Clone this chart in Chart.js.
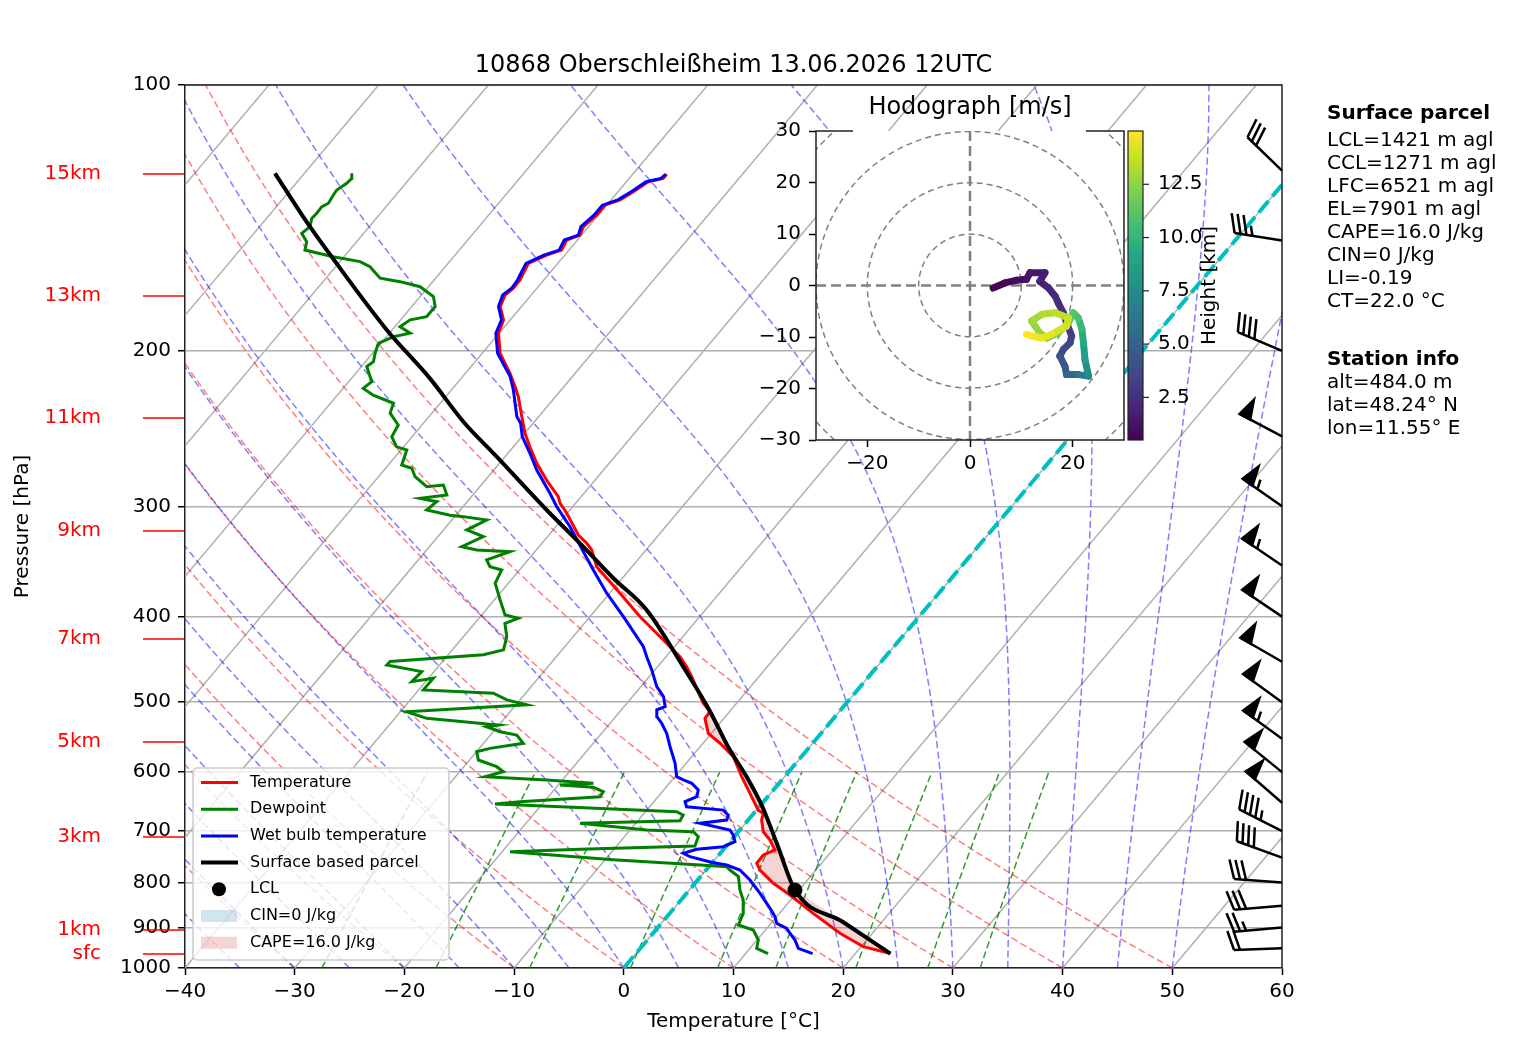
<!DOCTYPE html>
<html><head><meta charset="utf-8">
<script src="https://cdn.jsdelivr.net/npm/chart.js@4.4.1/dist/chart.umd.min.js"></script>
<style>
html,body{margin:0;padding:0;background:#fff;}
#wrap{position:relative;width:1517px;height:1054px;overflow:hidden;}
#main{position:absolute;left:0;top:0;}
#hodo{position:absolute;left:700px;top:80px;}
</style></head>
<body><div id="wrap"><canvas id="main" width="1517" height="1054"></canvas><canvas id="hodo" width="530" height="420"></canvas></div>
<script>
// ---------------- DATA ----------------
const chartTitle = '10868 Oberschleißheim 13.06.2026 12UTC';
const pressureTicks = [100, 200, 300, 400, 500, 600, 700, 800, 900, 1000];
const temperatureTicks = [-40, -30, -20, -10, 0, 10, 20, 30, 40, 50, 60];

// [pressure hPa, value °C]
const temperature = [[963,23.2],[946,20.2],[913.4,17.05],[867.2,13.08],[826.7,9.56],[801.8,7.14],[774.5,4.91],[761.1,4.10],[744.7,4.06],[735.1,4.74],[716.2,3.52],[701,2.28],[680,1.23],[668.3,0.87],[662.5,0.16],[634.2,-1.88],[607.2,-3.91],[576.3,-6.21],[556.6,-8.44],[542.3,-10.28],[521.5,-11.73],[512.6,-11.78],[501.5,-13.03],[467.9,-16.13],[455.9,-17.35],[444.1,-18.73],[425.1,-21.53],[400.1,-25.43],[376.3,-29.06],[351.2,-33.21],[336.2,-34.95],[330.4,-35.92],[323.3,-37.32],[305.5,-40.04],[297.6,-41.42],[292.6,-42.08],[280.2,-44.42],[268.2,-46.6],[256.9,-48.49],[248,-49.97],[237.4,-51.55],[225.4,-53.39],[219.6,-54.45],[212.1,-55.93],[201.3,-58.37],[191,-60.06],[184.5,-60.62],[178.2,-61.94],[172.9,-62.39],[169.9,-62.14],[166.3,-62.17],[159.2,-62.69],[155.8,-61.65],[153.8,-60.67],[149.8,-60.98],[147.9,-60.14],[144.7,-60.48],[140.4,-60.16],[136.8,-60.16],[134.9,-59.19],[132.1,-58.6],[128.7,-58.01],[127.6,-56.9],[126.2,-56.9]];

const dewpoint = [[963,12.04],[949.9,10.6],[929.6,10.12],[905.8,8.9],[893.9,7.15],[867.2,6.7],[837.6,5.68],[816,4.61],[788,3.45],[774.5,2.17],[767.9,1.62],[764.6,-0.94],[754.3,-9.23],[738.3,-19.28],[733.8,-13.08],[727.6,-2.86],[710,-3.27],[701,-4.1],[697.8,-8.48],[685.7,-15.08],[681.1,-6.16],[671.2,-6.3],[665.3,-7.15],[653.8,-21.95],[652.1,-24.3],[648.1,-22.2],[639.7,-15.29],[631.4,-15.38],[624.3,-16.62],[620.5,-19.84],[617.7,-16.93],[612.4,-21.43],[607.2,-27.31],[599.4,-26.02],[591.6,-27.01],[581.4,-29.19],[568.9,-29.98],[564,-29.03],[556.6,-26.37],[544.7,-27.61],[540.1,-29.38],[533.1,-30.99],[530.7,-30.06],[521.5,-37.1],[512.6,-39.43],[503.5,-29.0],[497,-31.2],[488.5,-32.94],[484.2,-39.58],[469.7,-39.56],[473.9,-41.26],[461.7,-41.12],[453.7,-44.82],[449.7,-44.78],[441.9,-36.79],[436.2,-35.34],[421.5,-36.05],[407.1,-37.24],[401.8,-36.41],[398.3,-37.87],[383,-39.47],[366.6,-41.21],[354.2,-41.62],[351.2,-42.94],[345,-43.77],[337.7,-42.26],[336.2,-45.43],[333.3,-47.06],[324.7,-45.85],[319.1,-47.87],[310.9,-46.82],[308.2,-49.2],[307,-50.54],[302.9,-53.06],[296.4,-52.78],[293.8,-54.56],[291.2,-52.38],[283.8,-53.45],[285,-54.84],[277.7,-56.67],[271.7,-57.61],[269.4,-58.78],[259,-59.47],[256.9,-60.64],[250.2,-61.86],[242.7,-62.16],[235.3,-63.81],[229.3,-64.27],[224.5,-66.73],[220.6,-68.16],[216.8,-67.9],[213.9,-68.44],[208.4,-69.51],[205.7,-69.28],[201.3,-69.77],[196.1,-70.24],[192.8,-69.37],[191,-68.11],[187.8,-69.53],[184.5,-69.13],[183,-67.87],[178.2,-67.87],[173.6,-68.8],[169.2,-70.77],[167,-72.98],[165.5,-75.06],[160.6,-76.87],[158.5,-78.16],[156.5,-80.97],[153.8,-84.07],[150.5,-84.55],[147.2,-85.65],[144.7,-85.4],[141.6,-85.88],[139.7,-85.82],[137.4,-85.86],[136.1,-85.52],[133.2,-85.7],[131.5,-85.77],[129.2,-85.38],[127.6,-85.3],[125.9,-85.68]];

const wetBulb = [[963,16.1],[949.9,14.4],[929.6,13.46],[913.4,12.49],[901.7,11.81],[890,10.52],[874.8,9.85],[855.9,8.76],[823.1,6.7],[795,4.76],[774.5,3.08],[764.6,1.49],[760,0.09],[748.1,-2.49],[741.4,-3.36],[733.8,-2.45],[728.8,-0.22],[719.4,0.46],[707,-0.21],[697.8,-0.89],[685.7,-4.14],[680,-1.96],[671.2,-2.19],[662.5,-3.03],[656.8,-6.63],[648.1,-7.16],[639.7,-6.47],[628.6,-6.85],[617.7,-7.96],[612.4,-8.98],[607.2,-9.84],[586.3,-11.01],[561.5,-12.74],[542.3,-14.07],[528.2,-15.3],[519.1,-16.25],[510.1,-16.77],[505.7,-16.26],[492.7,-17.18],[480.1,-18.55],[459.6,-20.29],[444.1,-21.76],[432.6,-22.83],[400.1,-26.95],[376.3,-30.27],[354.2,-33.27],[337.7,-35.58],[316.4,-38.71],[300.3,-41.46],[290,-43.1],[272.9,-46.09],[261.3,-47.98],[250.2,-49.96],[241.6,-51.14],[237.4,-52.0],[221.5,-54.35],[213.9,-55.67],[201.3,-58.6],[191,-60.3],[184.5,-60.8],[178.2,-62.1],[172.9,-62.6],[169.9,-62.3],[166.3,-62.4],[159.2,-62.9],[155.8,-61.9],[153.8,-60.9],[149.8,-61.2],[147.9,-60.3],[144.7,-60.7],[140.4,-60.4],[136.8,-60.4],[134.9,-59.4],[132.1,-58.8],[128.7,-58.2],[127.6,-57.1],[126.2,-57.0]];

const parcel = [[963,23.2],[887,16.46],[816,9.63],[722.4,4.39],[653.8,0.08],[607.2,-3.46],[566.5,-7.02],[507.9,-12.2],[455.9,-17.66],[393.2,-25.34],[361.9,-30.81],[330.4,-36.53],[302.9,-42.12],[263.6,-50.76],[240.6,-56.48],[214.9,-62.85],[189.4,-70.49],[156.5,-81.12],[141,-86.78],[125.9,-92.68]];
const lcl = [[816, 9.63]];

// background reference-line parameters
const isothermT = [-100, -90, -80, -70, -60, -50, -40, -30, -20, -10, 0, 10, 20, 30, 40, 50, 60];
const dryAdiabatT0 = [-40, -30, -20, -10, 0, 10, 20, 30, 40, 50];
const moistAdiabatT0 = [-40, -35, -30, -25, -20, -15, -10, -5, 0, 5, 10, 15, 20, 25, 30, 35, 40, 45, 50];
const mixingRatios = [0.0004, 0.001, 0.002, 0.004, 0.007, 0.01, 0.016, 0.024, 0.032];

// wind barbs (knots)
const barbP = [125, 150, 200, 250, 300, 350, 400, 450, 500, 550, 600, 650, 700, 750, 800, 850, 900, 950];
const barbDir = [314, 279, 293, 298, 305, 304, 304, 300, 306, 306, 309, 311, 297, 290, 274, 265, 265, 268];
const barbSpd = [30, 35, 40, 50, 55, 55, 50, 50, 50, 55, 50, 50, 45, 40, 30, 30, 25, 20];

// height labels
const kmLabels = ['15km', '13km', '11km', '9km', '7km', '5km', '3km', '1km', 'sfc'];
const kmP = [126.1, 173.4, 238.3, 320.0, 424.0, 554.6, 710.6, 905.8, 964.0];

// hodograph: height (km), u, v (m/s)
const hodoH = [0.5,0.7,0.9,1.1,1.3,1.6,1.8,2.0,2.2,2.4,2.6,2.8,3.1,3.4,3.7,4.0,4.4,4.9,5.8,7.0,8.0,9.0,9.8,10.5,11.0,11.4,11.8,12.2,12.5,12.8,13.1,13.4,13.7,14.0,14.3,14.6,14.8,15.0];
const hodoU = [4.5,6.8,9.0,11.0,11.7,14.6,13.6,15.3,16.6,17.2,18.2,18.8,19.8,19.5,18.2,17.5,18.5,18.8,21.1,23.1,22.4,22.1,21.8,21.1,20.1,19.2,17.2,15.0,13.6,12.0,14.0,16.6,19.2,18.8,15.9,14.0,12.0,11.0];
const hodoV = [-0.5,0.5,1.0,1.2,2.5,2.5,0.8,-0.5,-2.1,-3.4,-5.3,-7.2,-9.8,-11.1,-12.4,-13.7,-15.7,-17.3,-17.3,-17.6,-14.4,-11.1,-8.5,-6.3,-5.3,-7.2,-9.2,-10.2,-9.2,-6.9,-5.6,-5.3,-6.3,-7.9,-9.5,-10.2,-9.8,-9.5];
const hodoTicks = [-30, -20, -10, 0, 10, 20, 30];
const colorbarTicks = [2.5, 5.0, 7.5, 10.0, 12.5];

const parcelInfo = ['LCL=1421 m agl', 'CCL=1271 m agl', 'LFC=6521 m agl', 'EL=7901 m agl', 'CAPE=16.0 J/kg', 'CIN=0 J/kg', 'LI=-0.19', 'CT=22.0 °C'];
const stationInfo = ['alt=484.0 m', 'lat=48.24° N', 'lon=11.55° E'];
const legendItems = ['Temperature', 'Dewpoint', 'Wet bulb temperature', 'Surface based parcel', 'LCL', 'CIN=0 J/kg', 'CAPE=16.0 J/kg'];

// ---------------- HELPERS ----------------
const FONT = '"DejaVu Sans", sans-serif';
Chart.defaults.font.family = FONT;
Chart.defaults.color = '#000';
const SKEW = 67.65;
const skewX = (T, p) => T + SKEW * Math.log10(1000 / p);
const toPts = arr => arr.map(([p, T]) => ({x: skewX(T, p), y: p}));
const minus = v => (v < 0 ? '\u2212' + Math.abs(v) : String(v));

function dryAdiabat(t0) {
  const pts = [];
  for (let p = 1000; p >= 100; p -= 10) pts.push({x: skewX((t0 + 273.15) * Math.pow(p / 1000, 0.28571) - 273.15, p), y: p});
  return pts;
}
function moistAdiabat(t0) {
  const Rd = 287.04749, Cp = 1004.6662, Lv = 2.50084e6, eps = 0.62196;
  const f = (p, T) => {
    const es = 6.112 * Math.exp(17.67 * (T - 273.15) / (T - 29.65));
    const rs = eps * es / (p - es);
    return (Rd * T + Lv * rs) / (Cp + Lv * Lv * rs * eps / (Rd * T * T)) / p;
  };
  let T = t0 + 273.15;
  const pts = [{x: skewX(t0, 1000), y: 1000}];
  for (let i = 0; i < 180; i++) {
    const p = 1000 - 5 * i, h = -5;
    const k1 = f(p, T), k2 = f(p + h / 2, T + h / 2 * k1), k3 = f(p + h / 2, T + h / 2 * k2), k4 = f(p + h, T + h * k3);
    T += h / 6 * (k1 + 2 * k2 + 2 * k3 + k4);
    const pn = p + h;
    if (pn % 10 === 0) pts.push({x: skewX(T - 273.15, pn), y: pn});
  }
  return pts;
}
function mixingLine(w) {
  const pts = [];
  for (let p = 1000; p >= 600; p -= 20) {
    const e = p * w / (0.62196 + w);
    const l = Math.log(e / 6.112);
    pts.push({x: skewX(243.5 * l / (17.67 - l), p), y: p});
  }
  return pts;
}
const bg = (data, color, width, dash, order) => ({label: '', data, borderColor: color, borderWidth: width, borderDash: dash, pointRadius: 0, fill: false, order});

function interpT(arr, p) {
  for (let i = 0; i < arr.length - 1; i++) {
    const [p0, t0] = arr[i], [p1, t1] = arr[i + 1];
    if (p <= p0 && p >= p1) {
      const f = (Math.log(p) - Math.log(p0)) / (Math.log(p1) - Math.log(p0));
      return t0 + f * (t1 - t0);
    }
  }
  return null;
}

const viridisStops = ['#440154','#482475','#414487','#355f8d','#2a788e','#21918c','#22a884','#44bf70','#7ad151','#bddf26','#fde725'];
const hex = h => [parseInt(h.slice(1, 3), 16), parseInt(h.slice(3, 5), 16), parseInt(h.slice(5, 7), 16)];
function viridis(f) {
  f = Math.max(0, Math.min(1, f));
  const n = viridisStops.length - 1;
  const i = Math.min(n - 1, Math.floor(f * n));
  const t = f * n - i;
  const a = hex(viridisStops[i]), b = hex(viridisStops[i + 1]);
  return `rgb(${Math.round(a[0] + t * (b[0] - a[0]))},${Math.round(a[1] + t * (b[1] - a[1]))},${Math.round(a[2] + t * (b[2] - a[2]))})`;
}
const hMin = Math.min(...hodoH), hMax = Math.max(...hodoH);

// ---------------- MAIN SKEW-T ----------------
const datasets = [
  {label: 'LCL', data: toPts(lcl), showLine: false, pointRadius: 7, pointBackgroundColor: '#000', pointBorderColor: '#000', borderColor: '#000', order: 0},
  {label: 'Surface based parcel', data: toPts(parcel), borderColor: '#000', borderWidth: 4, pointRadius: 0, cubicInterpolationMode: 'monotone', order: 1},
  {label: 'Wet bulb temperature', data: toPts(wetBulb), borderColor: '#0000ff', borderWidth: 3, pointRadius: 0, order: 2},
  {label: 'Temperature', data: toPts(temperature), borderColor: '#ff0000', borderWidth: 3, pointRadius: 0, order: 3},
  {label: 'Dewpoint', data: toPts(dewpoint), borderColor: '#008000', borderWidth: 3, pointRadius: 0, order: 4},
  bg([{x: skewX(0, 1000), y: 1000}, {x: skewX(0, 100), y: 100}], '#00bfbf', 4, [15, 6], 5)
];
mixingRatios.forEach(w => datasets.push(bg(mixingLine(w), 'rgba(0,128,0,0.8)', 1.5, [7, 3.5], 6)));
moistAdiabatT0.forEach(t => datasets.push(bg(moistAdiabat(t), 'rgba(0,0,255,0.5)', 1.5, [7, 3.5], 7)));
dryAdiabatT0.forEach(t => datasets.push(bg(dryAdiabat(t), 'rgba(255,0,0,0.5)', 1.5, [7, 3.5], 8)));
isothermT.forEach(t => datasets.push(bg([{x: skewX(t, 1000), y: 1000}, {x: skewX(t, 100), y: 100}], '#b0b0b0', 1.5, [], 9)));

function drawCape(chart) {
  const xs = chart.scales.x, ys = chart.scales.y, ctx = chart.ctx;
  const pb = temperature[0][0], pt = 480;
  let run = [];
  const flush = () => {
    if (run.length > 1) {
      ctx.beginPath();
      run.forEach((r, i) => { const X = xs.getPixelForValue(skewX(r.tp, r.p)), Y = ys.getPixelForValue(r.p); i ? ctx.lineTo(X, Y) : ctx.moveTo(X, Y); });
      for (let i = run.length - 1; i >= 0; i--) { const r = run[i]; ctx.lineTo(xs.getPixelForValue(skewX(r.te, r.p)), ys.getPixelForValue(r.p)); }
      ctx.closePath(); ctx.fill();
    }
    run = [];
  };
  ctx.save();
  ctx.fillStyle = 'rgba(214,39,40,0.2)';
  for (let lp = Math.log(pb); lp >= Math.log(pt); lp -= 0.001) {
    const p = Math.exp(lp);
    const te = interpT(temperature, p), tp = interpT(parcel, p);
    if (te !== null && tp !== null && tp > te) run.push({p, te, tp}); else flush();
  }
  flush();
  ctx.restore();
}

function drawBarb(ctx, x0, y0, dir, spd, L) {
  const d = dir * Math.PI / 180;
  const sx = Math.sin(d), sy = -Math.cos(d);
  const qx = Math.cos(d), qy = Math.sin(d);
  const P = (a, b) => [x0 + b * sx + a * qx, y0 + b * sy + a * qy];
  const H = 0.4 * L, W = 0.25 * L, S = 0.125 * L;
  let rem = Math.round(spd / 5) * 5;
  const nf = Math.floor(rem / 50); rem -= nf * 50;
  const nb = Math.floor(rem / 10); rem -= nb * 10;
  const half = rem >= 5;
  ctx.save();
  ctx.strokeStyle = '#000'; ctx.fillStyle = '#000'; ctx.lineWidth = 2.5; ctx.lineCap = 'butt'; ctx.lineJoin = 'miter';
  ctx.beginPath(); ctx.moveTo(...P(0, 0)); ctx.lineTo(...P(0, L)); ctx.stroke();
  let off = L;
  for (let i = 0; i < nf; i++) {
    if (off !== L) off += S / 2;
    ctx.beginPath(); ctx.moveTo(...P(0, off)); ctx.lineTo(...P(H, off - W / 2)); ctx.lineTo(...P(0, off - W)); ctx.closePath(); ctx.fill(); ctx.stroke();
    off -= W + S;
  }
  for (let i = 0; i < nb; i++) {
    ctx.beginPath(); ctx.moveTo(...P(0, off)); ctx.lineTo(...P(H, off + W / 2)); ctx.stroke();
    off -= S;
  }
  if (half) {
    if (off === L) off -= 1.5 * S;
    ctx.beginPath(); ctx.moveTo(...P(0, off)); ctx.lineTo(...P(H / 2, off + W / 4)); ctx.stroke();
  }
  ctx.restore();
}

const skewPlugin = {
  id: 'skewExtras',
  beforeDraw(chart) {
    const ctx = chart.ctx;
    ctx.save(); ctx.fillStyle = '#fff'; ctx.fillRect(0, 0, chart.width, chart.height); ctx.restore();
  },
  beforeDatasetDraw(chart, args) {
    if (chart.data.datasets[args.index].label === 'Dewpoint') drawCape(chart);
  },
  afterDatasetsDraw(chart) {
    const ctx = chart.ctx, a = chart.chartArea, ys = chart.scales.y;
    ctx.save();
    ctx.strokeStyle = '#222'; ctx.lineWidth = 1.5;
    ctx.beginPath(); ctx.moveTo(a.left, a.top); ctx.lineTo(a.right, a.top); ctx.lineTo(a.right, a.bottom); ctx.stroke();
    barbP.forEach((p, i) => drawBarb(ctx, a.right, ys.getPixelForValue(p), barbDir[i], barbSpd[i], 48));
    ctx.fillStyle = '#ff0000'; ctx.strokeStyle = '#ff0000'; ctx.lineWidth = 1.5;
    ctx.font = '20px ' + FONT; ctx.textAlign = 'right'; ctx.textBaseline = 'middle';
    kmLabels.forEach((t, i) => {
      const y = ys.getPixelForValue(kmP[i]);
      ctx.beginPath(); ctx.moveTo(a.left - 42, y); ctx.lineTo(a.left - 1, y); ctx.stroke();
      ctx.fillText(t, a.left - 84, y);
    });
    const lx = 193, ly = 768, lw = 256, lh = 192;
    ctx.beginPath(); ctx.roundRect(lx, ly, lw, lh, 4);
    ctx.fillStyle = 'rgba(255,255,255,0.8)'; ctx.fill();
    ctx.strokeStyle = '#cccccc'; ctx.lineWidth = 1.5; ctx.stroke();
    const styles = [['line', '#ff0000', 3], ['line', '#008000', 3], ['line', '#0000ff', 3], ['line', '#000', 4], ['dot', '#000'], ['patch', 'rgba(31,119,180,0.2)'], ['patch', 'rgba(214,39,40,0.2)']];
    ctx.font = '16px ' + FONT; ctx.textAlign = 'left'; ctx.textBaseline = 'middle';
    legendItems.forEach((t, i) => {
      const y = 782.5 + i * 26.7;
      const s = styles[i];
      if (s[0] === 'line') { ctx.strokeStyle = s[1]; ctx.lineWidth = s[2]; ctx.beginPath(); ctx.moveTo(201, y); ctx.lineTo(238, y); ctx.stroke(); }
      else if (s[0] === 'dot') { ctx.fillStyle = s[1]; ctx.beginPath(); ctx.arc(219, y, 7, 0, Math.PI * 2); ctx.fill(); }
      else { ctx.fillStyle = s[1]; ctx.fillRect(201, y - 6, 36, 12); }
      ctx.fillStyle = '#000'; ctx.fillText(t, 250, y);
    });
    ctx.font = '24px ' + FONT; ctx.textAlign = 'center'; ctx.fillStyle = '#000';
    ctx.fillText(chartTitle, (a.left + a.right) / 2, 66);
    ctx.textAlign = 'left';
    ctx.font = 'bold 20px ' + FONT; ctx.fillText('Surface parcel', 1327, 114);
    ctx.font = '20px ' + FONT;
    parcelInfo.forEach((t, i) => ctx.fillText(t, 1327, 140.5 + i * 23));
    ctx.font = 'bold 20px ' + FONT; ctx.fillText('Station info', 1327, 360);
    ctx.font = '20px ' + FONT;
    stationInfo.forEach((t, i) => ctx.fillText(t, 1327, 383 + i * 23));
    ctx.restore();
  }
};

new Chart(document.getElementById('main'), {
  type: 'line',
  data: {datasets},
  plugins: [skewPlugin],
  options: {
    responsive: false, animation: false, events: [],
    layout: {padding: {left: 10, right: 235, top: 85, bottom: 12}},
    plugins: {legend: {display: false}, tooltip: {enabled: false}, title: {display: false}},
    elements: {line: {tension: 0}},
    scales: {
      x: {
        type: 'linear', min: -40, max: 60,
        afterBuildTicks: s => { s.ticks = temperatureTicks.map(v => ({value: v})); },
        afterFit: s => { s.height = 74; },
        grid: {display: true, drawOnChartArea: false, drawTicks: true, tickLength: 7, tickColor: '#000', tickWidth: 1.5},
        border: {display: true, color: '#222', width: 1.5},
        ticks: {font: {size: 20}, padding: 5, maxRotation: 0, autoSkip: false, callback: v => minus(v)},
        title: {display: true, text: 'Temperature [°C]', font: {size: 20}, padding: {top: 0, bottom: 8}}
      },
      y: {
        type: 'logarithmic', min: 100, max: 1000, reverse: true,
        afterBuildTicks: s => { s.ticks = pressureTicks.map(v => ({value: v})); },
        afterFit: s => { s.width = 175; },
        grid: {display: true, drawOnChartArea: true, color: '#b0b0b0', lineWidth: 1.5, drawTicks: true, tickLength: 7, tickColor: '#000', tickWidth: 1.5},
        border: {display: true, color: '#222', width: 1.5},
        ticks: {font: {size: 20}, padding: 7, autoSkip: false, callback: v => String(v)},
        title: {display: true, text: 'Pressure [hPa]', font: {size: 20}, padding: {top: 1, bottom: 0}}
      }
    }
  }
});

// ---------------- HODOGRAPH ----------------
const hodoPlugin = {
  id: 'hodoExtras',
  beforeDatasetsDraw(chart) {
    const ctx = chart.ctx, a = chart.chartArea, xs = chart.scales.x, ys = chart.scales.y;
    ctx.save();
    ctx.fillStyle = '#fff'; ctx.fillRect(a.left, a.top, a.right - a.left, a.bottom - a.top);
    ctx.beginPath(); ctx.rect(a.left, a.top, a.right - a.left, a.bottom - a.top); ctx.clip();
    const cx = xs.getPixelForValue(0), cy = ys.getPixelForValue(0);
    ctx.strokeStyle = '#808080';
    ctx.lineWidth = 1.5; ctx.setLineDash([6, 4]);
    [10, 20, 30, 40].forEach(r => {
      const rp = xs.getPixelForValue(r) - cx;
      ctx.beginPath(); ctx.arc(cx, cy, rp, 0, Math.PI * 2); ctx.stroke();
    });
    ctx.lineWidth = 2.5; ctx.setLineDash([10, 5]);
    ctx.beginPath(); ctx.moveTo(cx, a.top); ctx.lineTo(cx, a.bottom); ctx.stroke();
    ctx.beginPath(); ctx.moveTo(a.left, cy); ctx.lineTo(a.right, cy); ctx.stroke();
    ctx.restore();
  },
  afterDraw(chart) {
    const ctx = chart.ctx, a = chart.chartArea;
    ctx.save();
    ctx.strokeStyle = '#222'; ctx.lineWidth = 1.5;
    ctx.beginPath();
    ctx.moveTo(a.left + 37, a.top); ctx.lineTo(a.left, a.top); ctx.lineTo(a.left, a.bottom); ctx.lineTo(a.right, a.bottom); ctx.lineTo(a.right, a.top); ctx.lineTo(a.right - 38, a.top);
    ctx.stroke();
    ctx.fillStyle = '#000'; ctx.font = '24px ' + FONT; ctx.textAlign = 'center'; ctx.textBaseline = 'middle';
    ctx.fillText('Hodograph [m/s]', (a.left + a.right) / 2, 28);
    const bx = a.right + 4, bw = 15, bt = a.top, bb = a.bottom;
    const g = ctx.createLinearGradient(0, bb, 0, bt);
    for (let k = 0; k <= 20; k++) g.addColorStop(k / 20, viridis(k / 20));
    ctx.fillStyle = g; ctx.fillRect(bx, bt, bw, bb - bt);
    ctx.strokeStyle = '#222'; ctx.lineWidth = 1.2; ctx.strokeRect(bx, bt, bw, bb - bt);
    ctx.font = '20px ' + FONT; ctx.textAlign = 'left'; ctx.fillStyle = '#000'; ctx.lineWidth = 1.2;
    colorbarTicks.forEach(t => {
      const y = bb - (t - hMin) / (hMax - hMin) * (bb - bt);
      ctx.beginPath(); ctx.moveTo(bx + bw, y); ctx.lineTo(bx + bw + 6, y); ctx.stroke();
      ctx.fillText(t.toFixed(1), bx + bw + 15, y);
    });
    ctx.translate(bx + 82, (bt + bb) / 2); ctx.rotate(-Math.PI / 2);
    ctx.textAlign = 'center'; ctx.fillText('Height [km]', 0, 0);
    ctx.restore();
  }
};

new Chart(document.getElementById('hodo'), {
  type: 'line',
  data: {datasets: [{
    data: hodoU.map((u, i) => ({x: u, y: hodoV[i]})),
    borderWidth: 7, pointRadius: 0, borderCapStyle: 'round', borderJoinStyle: 'round',
    borderColor: viridis(0.5),
    segment: {borderColor: c => viridis(((hodoH[c.p0DataIndex] + hodoH[c.p1DataIndex]) / 2 - hMin) / (hMax - hMin))}
  }]},
  plugins: [hodoPlugin],
  options: {
    responsive: false, animation: false, events: [],
    layout: {padding: {left: 0, right: 106, top: 51, bottom: 25}},
    plugins: {legend: {display: false}, tooltip: {enabled: false}},
    scales: {
      x: {
        type: 'linear', min: -30, max: 30,
        afterBuildTicks: s => { s.ticks = [-20, 0, 20].map(v => ({value: v})); },
        afterFit: s => { s.height = 35; },
        grid: {display: true, drawOnChartArea: false, tickLength: 7, tickColor: '#000', tickWidth: 1.5},
        border: {display: false},
        ticks: {font: {size: 20}, padding: 5, maxRotation: 0, autoSkip: false, callback: v => minus(v)}
      },
      y: {
        type: 'linear', min: -30, max: 30,
        afterBuildTicks: s => { s.ticks = hodoTicks.map(v => ({value: v})); },
        afterFit: s => { s.width = 116; },
        grid: {display: true, drawOnChartArea: false, tickLength: 7, tickColor: '#000', tickWidth: 1.5},
        border: {display: false},
        ticks: {font: {size: 20}, padding: 8, autoSkip: false, callback: v => minus(v)}
      }
    }
  }
});
</script></body></html>
